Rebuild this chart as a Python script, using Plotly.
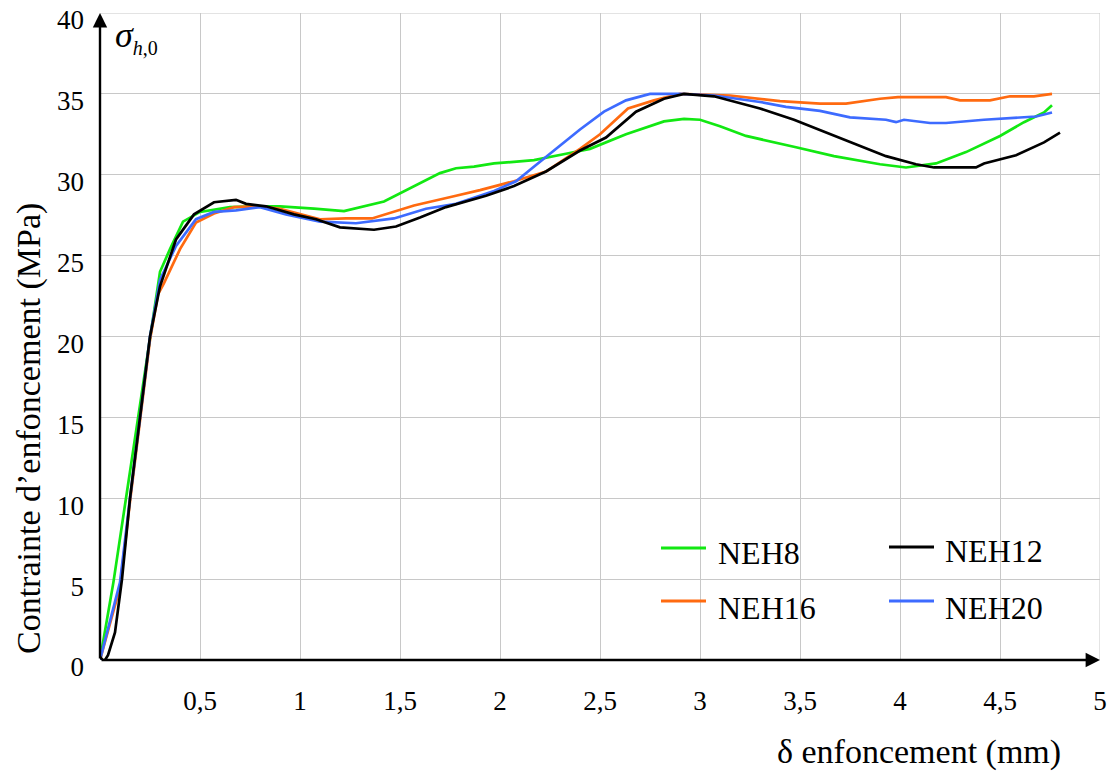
import plotly.graph_objects as go

# Penetration (mm) vs embedding stress (MPa) for the four specimens
neh8_x = [0, 0.067, 0.13, 0.19, 0.25, 0.3, 0.35, 0.415, 0.5, 0.65, 0.8, 0.9, 1.07, 1.22, 1.42, 1.57,
          1.7, 1.78, 1.87, 1.97, 2.1, 2.17, 2.33, 2.45, 2.63, 2.82, 2.92, 3.0, 3.1, 3.23, 3.48, 3.67,
          3.9, 4.03, 4.18, 4.33, 4.5, 4.62, 4.72, 4.76]
neh8_y = [0, 4.8, 10, 15, 20, 24, 25.4, 27.1, 27.7, 28.0, 28.05, 28.05, 27.9, 27.75, 28.35, 29.3,
          30.1, 30.4, 30.5, 30.7, 30.8, 30.9, 31.3, 31.6, 32.5, 33.3, 33.45, 33.4, 33.0, 32.4, 31.7, 31.15,
          30.65, 30.45, 30.7, 31.4, 32.4, 33.25, 33.85, 34.3]

neh12_x = [0, 0.02, 0.04, 0.075, 0.11, 0.15, 0.2, 0.25, 0.3, 0.38, 0.47, 0.57, 0.68, 0.73, 0.83,
           0.97, 1.08, 1.2, 1.37, 1.48, 1.6, 1.73, 1.93, 2.07, 2.23, 2.4, 2.53, 2.68, 2.82, 2.92,
           3.07, 3.15, 3.3, 3.47, 3.63, 3.75, 3.87, 3.93, 4.08, 4.17, 4.38, 4.42, 4.58, 4.72, 4.8]
neh12_y = [0.2, -0.1, 0.3, 1.7, 5, 10, 15, 20, 23.1, 26, 27.55, 28.3, 28.45, 28.2, 28.05,
           27.55, 27.25, 26.75, 26.6, 26.8, 27.35, 28.0, 28.7, 29.3, 30.2, 31.5, 32.3, 33.9, 34.7, 35.0,
           34.85, 34.6, 34.1, 33.4, 32.6, 32.0, 31.45, 31.15, 30.65, 30.45, 30.45, 30.7, 31.2, 32.0, 32.6]

neh16_x = [0, 0.1, 0.15, 0.2, 0.25, 0.29, 0.32, 0.4, 0.48, 0.57, 0.67, 0.8, 0.9, 1.1, 1.23, 1.36,
           1.47, 1.57, 1.78, 1.9, 2.07, 2.23, 2.4, 2.5, 2.64, 2.77, 2.9, 3.15, 3.4, 3.6, 3.73, 3.9,
           3.99, 4.23, 4.3, 4.45, 4.55, 4.67, 4.76]
neh16_y = [0, 4.5, 9.8, 14.8, 19.8, 22.6, 23.3, 25.4, 27.05, 27.6, 28.0, 28.05, 27.9, 27.25, 27.3, 27.3,
           27.7, 28.1, 28.7, 29.05, 29.6, 30.2, 31.6, 32.5, 34.1, 34.6, 35.0, 34.9, 34.55, 34.4, 34.4, 34.7,
           34.8, 34.8, 34.6, 34.6, 34.85, 34.85, 35.0]

neh20_x = [0, 0.1, 0.15, 0.2, 0.25, 0.3, 0.38, 0.48, 0.57, 0.68, 0.8, 0.93, 1.1, 1.28, 1.47, 1.63,
           1.78, 1.97, 2.08, 2.18, 2.28, 2.4, 2.52, 2.63, 2.75, 2.9, 3.07, 3.3, 3.43, 3.6, 3.75, 3.93,
           3.98, 4.02, 4.15, 4.23, 4.42, 4.58, 4.68, 4.76]
neh20_y = [0, 4.8, 10, 15, 20, 23.5, 25.6, 27.25, 27.7, 27.8, 28.0, 27.55, 27.1, 27.0, 27.3, 27.9,
           28.2, 29.0, 29.6, 30.6, 31.6, 32.8, 33.9, 34.6, 35.0, 35.0, 34.9, 34.5, 34.2, 33.95, 33.55, 33.4,
           33.25, 33.4, 33.2, 33.2, 33.4, 33.55, 33.6, 33.85]

series_names = ["NEH8", "NEH12", "NEH16", "NEH20"]
series_colors = ["#12e812", "#000000", "#ff6a10", "#3d6bff"]

x_tickvals = [0.5, 1, 1.5, 2, 2.5, 3, 3.5, 4, 4.5, 5]
x_ticktext = ["0,5", "1", "1,5", "2", "2,5", "3", "3,5", "4", "4,5", "5"]
y_tickvals = [0, 5, 10, 15, 20, 25, 30, 35, 40]
y_ticktext = ["0", "5", "10", "15", "20", "25", "30", "35", "40"]

X_MAX, Y_MAX = 5, 40
FONT = "Liberation Serif"
GRID = "#c8c8c8"

fig = go.Figure()
series = [(neh8_x, neh8_y), (neh12_x, neh12_y), (neh16_x, neh16_y), (neh20_x, neh20_y)]
# draw order: green, orange, blue, black on top
for i in [0, 2, 3, 1]:
    xs, ys = series[i]
    fig.add_trace(go.Scatter(x=xs, y=ys, mode="lines", name=series_names[i],
                             line=dict(color=series_colors[i], width=2.7),
                             showlegend=False))

W, H = 1114, 776
ML, MR, MT, MB = 100, 14, 13, 116
PW, PH = W - ML - MR, H - MT - MB


def px(xp):
    return (xp - ML) / PW


def py(yp):
    return (H - MB - yp) / PH


shapes = [
    # grid lines along the top and right borders of the frame
    dict(type="line", xref="x", yref="y", x0=0, x1=X_MAX, y0=Y_MAX, y1=Y_MAX,
         line=dict(color=GRID, width=1), layer="below"),
    dict(type="line", xref="x", yref="y", x0=X_MAX, x1=X_MAX, y0=0, y1=Y_MAX,
         line=dict(color=GRID, width=1), layer="below"),
]
annotations = []

# legend: two columns, two rows
legend_slots = [(661, 548, 716, 553), (889, 547, 943, 551), (661, 601, 716, 608), (889, 601, 943, 608)]
for (lx, ly, tx, ty), name, color in zip(legend_slots, series_names, series_colors):
    shapes.append(dict(type="line", xref="paper", yref="paper", x0=px(lx), x1=px(lx + 45),
                       y0=py(ly), y1=py(ly), line=dict(color=color, width=3)))
    annotations.append(dict(xref="paper", yref="paper", x=px(tx), y=py(ty), text=name,
                            showarrow=False, xanchor="left", yanchor="middle",
                            font=dict(family=FONT, size=32, color="black")))

# axes with arrowheads
annotations.append(dict(x=X_MAX, y=0, ax=0, ay=0, xref="x", yref="y", axref="x", ayref="y",
                        text="", showarrow=True, arrowhead=2, arrowsize=1.2, arrowwidth=2.4,
                        arrowcolor="black"))
annotations.append(dict(x=0, y=Y_MAX, ax=0, ay=0, xref="x", yref="y", axref="x", ayref="y",
                        text="", showarrow=True, arrowhead=2, arrowsize=1.2, arrowwidth=2.4,
                        arrowcolor="black"))

# axis titles
annotations.append(dict(xref="paper", yref="paper", x=px(1063), y=py(752),
                        text="δ enfoncement (mm)", showarrow=False, xanchor="right", yanchor="middle",
                        font=dict(family=FONT, size=34, color="black")))
annotations.append(dict(xref="paper", yref="paper", x=px(29), y=py(429),
                        text="Contrainte d’enfoncement (MPa)", showarrow=False, textangle=-90,
                        xanchor="center", yanchor="middle",
                        font=dict(family=FONT, size=34, color="black")))
annotations.append(dict(xref="paper", yref="paper", x=px(113), y=py(37),
                        text="<i>σ</i><sub><i><span style='font-size:20px'>h</span></i>"
                             "<span style='font-size:20px'>,0</span></sub>",
                        showarrow=False, xanchor="left", yanchor="middle",
                        font=dict(family=FONT, size=36, color="black")))

fig.update_layout(
    width=W, height=H,
    margin=dict(l=ML, r=MR, t=MT, b=MB, autoexpand=False),
    paper_bgcolor="white", plot_bgcolor="white",
    shapes=shapes, annotations=annotations,
    xaxis=dict(range=[0, X_MAX], tickvals=x_tickvals, ticktext=x_ticktext,
               showgrid=True, gridcolor=GRID, gridwidth=1, zeroline=False, showline=False,
               ticks="", ticklabelstandoff=22, ticklabeloverflow="allow", automargin=False,
               tickfont=dict(family=FONT, size=27, color="black")),
    yaxis=dict(range=[0, Y_MAX], tickvals=y_tickvals, ticktext=y_ticktext,
               showgrid=True, gridcolor=GRID, gridwidth=1, zeroline=False, showline=False,
               ticks="", ticklabelstandoff=15, ticklabelshift=7, ticklabeloverflow="allow",
               automargin=False,
               tickfont=dict(family=FONT, size=27, color="black")),
)

fig.write_html("out.html")
